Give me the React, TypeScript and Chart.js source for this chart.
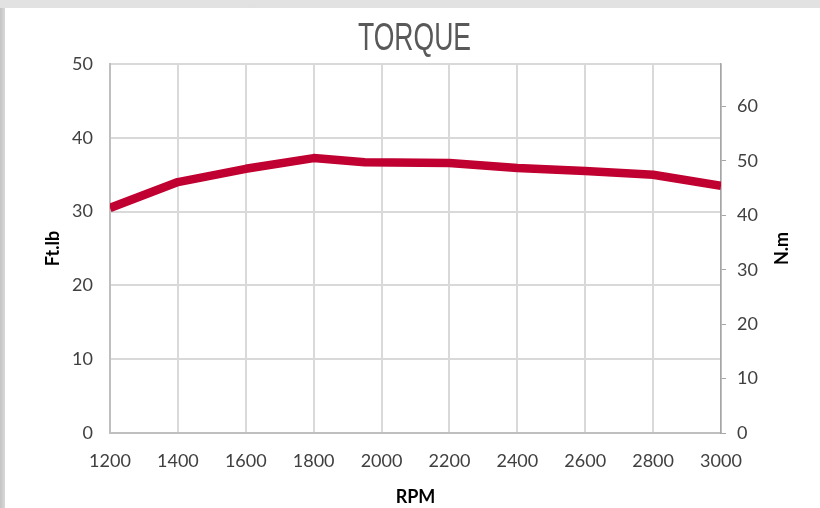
import React, { useEffect, useRef } from 'react';
import { Chart, registerables } from 'chart.js';

Chart.register(...registerables);

// ---- data ----
const rpm = [1200, 1400, 1600, 1800, 1950, 2200, 2400, 2600, 2800, 3000];
const torqueFtLb = [30.5, 34.0, 35.8, 37.25, 36.7, 36.6, 35.9, 35.5, 35.0, 33.5];
const xRange = [1200, 3000];
const xStep = 200;
const ftLbRange = [0, 50];
const ftLbStep = 10;
const nmPerFtLb = 1.35582;
const nmStep = 10;
const chartTitle = 'TORQUE';
const xTitle = 'RPM';
const leftTitle = 'Ft.lb';
const rightTitle = 'N.m';

const overlayPlugin = {
  id: 'overlayText',
  afterDraw(chart: any) {
    const ctx = chart.ctx as CanvasRenderingContext2D;
    const area = chart.chartArea;
    // main title (condensed)
    ctx.save();
    ctx.font = '39px "Liberation Sans Narrow", "Liberation Sans", sans-serif';
    ctx.fillStyle = '#595959';
    ctx.textAlign = 'center';
    ctx.textBaseline = 'alphabetic';
    const w = ctx.measureText(chartTitle).width;
    ctx.translate((area.left + area.right) / 2 - 1, 50);
    ctx.scale(113 / w, 1);
    ctx.fillText(chartTitle, 0, 0);
    ctx.restore();
    // right axis title, reading bottom-to-top
    ctx.save();
    ctx.font = 'bold 18px Lato, sans-serif';
    ctx.fillStyle = '#000000';
    ctx.textAlign = 'center';
    ctx.textBaseline = 'middle';
    ctx.translate(782, (area.top + area.bottom) / 2);
    ctx.rotate(-Math.PI / 2);
    ctx.fillText(rightTitle, 0, 0);
    ctx.restore();
  },
};

export default function App() {
  const canvasRef = useRef<HTMLCanvasElement | null>(null);

  useEffect(() => {
    if (!canvasRef.current) return;
    const tickFont = { family: 'Lato, sans-serif', size: 18 };
    const titleFont = { family: 'Lato, sans-serif', size: 18, weight: 'bold' as const };
    const gridColor = '#d9d9d9';
    const plain = (v: any) => String(v);
    const chart = new Chart(canvasRef.current, {
      type: 'line',
      data: {
        datasets: [
          {
            label: 'Torque',
            data: rpm.map((r, i) => ({ x: r, y: torqueFtLb[i] })),
            borderColor: '#c00030',
            backgroundColor: '#c00030',
            borderWidth: 8.5,
            pointRadius: 0,
            pointHoverRadius: 0,
            tension: 0,
            borderJoinStyle: 'round',
            borderCapStyle: 'butt',
            clip: 0,
            yAxisID: 'y',
          },
        ],
      },
      options: {
        animation: false,
        responsive: false,
        devicePixelRatio: 1,
        layout: { padding: { top: 64, left: 0, right: 0, bottom: 0 } },
        plugins: {
          legend: { display: false },
          title: { display: false },
          tooltip: { enabled: false },
        },
        scales: {
          x: {
            type: 'linear',
            min: xRange[0],
            max: xRange[1],
            ticks: { stepSize: xStep, font: tickFont, color: '#404040', padding: 17, maxRotation: 0, callback: plain },
            grid: { color: gridColor, lineWidth: 2, drawTicks: false },
            border: { color: '#bfbfbf', width: 2 },
            title: {
              display: true,
              text: xTitle,
              font: titleFont,
              color: '#000000',
              padding: { top: 3, bottom: 0 },
            },
            afterFit: (s: any) => {
              s.height = 75;
            },
          },
          y: {
            type: 'linear',
            position: 'left',
            min: ftLbRange[0],
            max: ftLbRange[1],
            ticks: { stepSize: ftLbStep, font: tickFont, color: '#404040', padding: 17, callback: plain },
            grid: { color: gridColor, lineWidth: 2, drawTicks: false },
            border: { color: '#bfbfbf', width: 2 },
            title: {
              display: true,
              text: leftTitle,
              font: titleFont,
              color: '#000000',
              padding: { top: 42, bottom: 0 },
            },
            afterFit: (s: any) => {
              s.width = 110;
            },
          },
          y2: {
            type: 'linear',
            position: 'right',
            min: ftLbRange[0] * nmPerFtLb,
            max: ftLbRange[1] * nmPerFtLb,
            ticks: {
              stepSize: nmStep,
              font: tickFont,
              color: '#404040',
              padding: 11,
              includeBounds: false,
              callback: plain,
            },
            grid: { drawOnChartArea: false, drawTicks: true, tickLength: 5, color: '#a6a6a6', lineWidth: 1 },
            border: { color: '#a6a6a6', width: 1.5 },
            afterFit: (s: any) => {
              s.width = 99;
            },
          },
        },
      },
      plugins: [overlayPlugin],
    } as any);
    return () => chart.destroy();
  }, []);

  return (
    <div
      style={{
        position: 'absolute',
        left: 0,
        top: 0,
        width: 820,
        height: 508,
        background: 'linear-gradient(#e2e2e2, #bdbdbd)',
        overflow: 'hidden',
      }}
    >
      <div
        style={{
          position: 'absolute',
          left: 0,
          top: 8,
          width: 5,
          height: 500,
          background: 'linear-gradient(90deg, #c4c4c4, #d8d8d8)',
        }}
      />
      <div style={{ position: 'absolute', left: 5, top: 8, right: 0, bottom: 0, background: '#ffffff' }} />
      <canvas
        ref={canvasRef}
        width={820}
        height={508}
        style={{ position: 'absolute', left: 0, top: 0, width: 820, height: 508 }}
      />
    </div>
  );
}
